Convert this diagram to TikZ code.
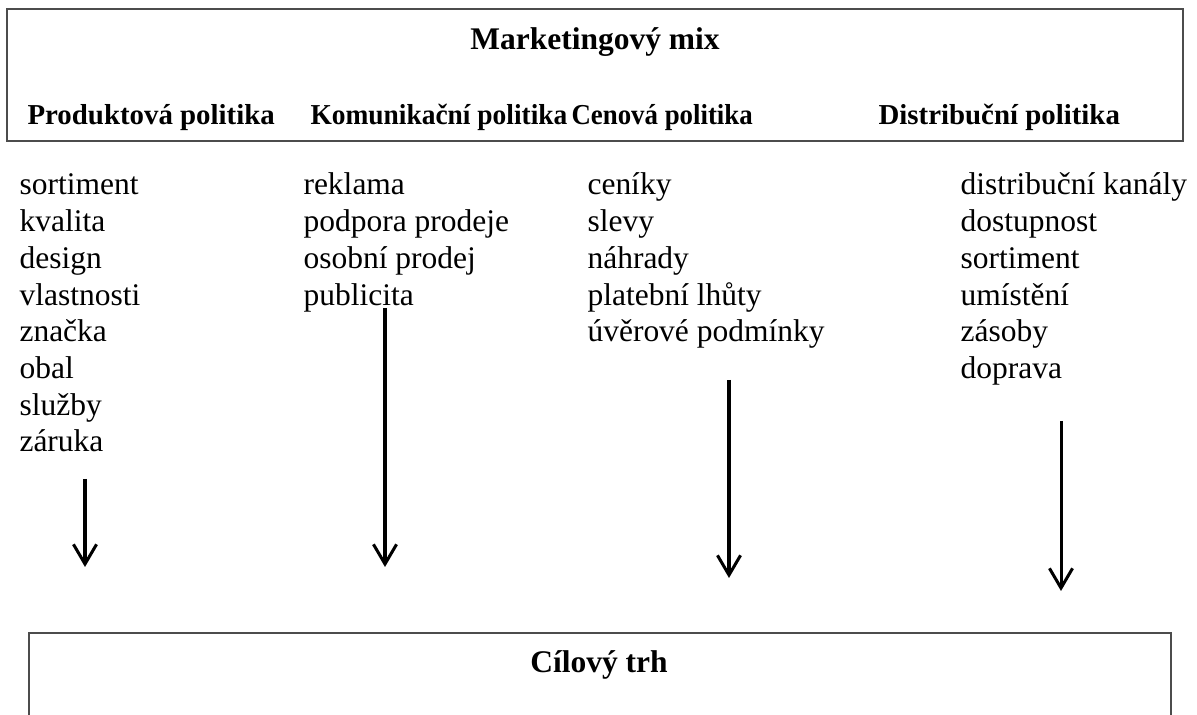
\documentclass[tikz,border=0pt]{standalone}
\usepackage{fontspec}
\setmainfont{Liberation Serif}
\usetikzlibrary{arrows.meta}

\tikzset{
  polozka/.style={anchor=base west, inner sep=0pt, font=\fontsize{12}{14}\selectfont},
  hlavicka/.style={anchor=base west, inner sep=0pt, font=\fontsize{11}{13}\selectfont\bfseries},
  nadpis/.style={anchor=base, inner sep=0pt, font=\fontsize{12}{14}\selectfont\bfseries},
  ramec/.style={draw=black!70, line width=0.45pt},
  sipka/.style={line width=1.15pt, -{Straight Barb[length=7.5pt,width=8.8pt]}}
}

\begin{document}
\begin{tikzpicture}[x=0.381pt, y=-0.381pt]
        \useasboundingbox (0,0) rectangle (1197,715);
        \clip (0,0) rectangle (1197,715);

        % horni ramec
        \draw[ramec] (7,9) rectangle (1183,141);
        \node[nadpis] (mix) at (595,50) {Marketingový mix};
        \node[hlavicka] (hP) at (27,125) {Produktová politika};
        \node[hlavicka] (hK) at (310,125) {\scalebox{0.95}[1]{Komunikační politika}};
        \node[hlavicka] (hC) at (571,125) {\scalebox{0.93}[1]{Cenová politika}};
        \node[hlavicka] (hD) at (878,125) {Distribuční politika};

        % seznamy
        \foreach \t [count=\i] in {sortiment,kvalita,design,vlastnosti,značka,obal,služby,záruka}
            \node[polozka] (p\i) at (19,{195+(\i-1)*36.7}) {\t};
        \foreach \t [count=\i] in {reklama,podpora prodeje,osobní prodej,publicita}
            \node[polozka] (k\i) at (303,{195+(\i-1)*36.7}) {\t};
        \foreach \t [count=\i] in {ceníky,slevy,náhrady,platební lhůty,úvěrové podmínky}
            \node[polozka] (c\i) at (587,{195+(\i-1)*36.7}) {\t};
        \foreach \t [count=\i] in {distribuční kanály,dostupnost,sortiment,umístění,zásoby,doprava}
            \node[polozka] (d\i) at (960,{195+(\i-1)*36.7}) {\t};

        % sipky
        \coordinate (a1) at (85,479);   \coordinate (b1) at (85,567);
        \coordinate (a2) at (385,308);  \coordinate (b2) at (385,567);
        \coordinate (a3) at (729,380);  \coordinate (b3) at (729,578);
        \coordinate (a4) at (1061,421); \coordinate (b4) at (1061,591);
        \foreach \i in {1,...,4}
            \draw[sipka] (a\i) -- (b\i);

        % dolni ramec
        \draw[ramec] (29,760) -- (29,633) -- (1171,633) -- (1171,760);
        \node[nadpis] (trh) at (599,673) {Cílový trh};

    \end{tikzpicture}
\end{document}
